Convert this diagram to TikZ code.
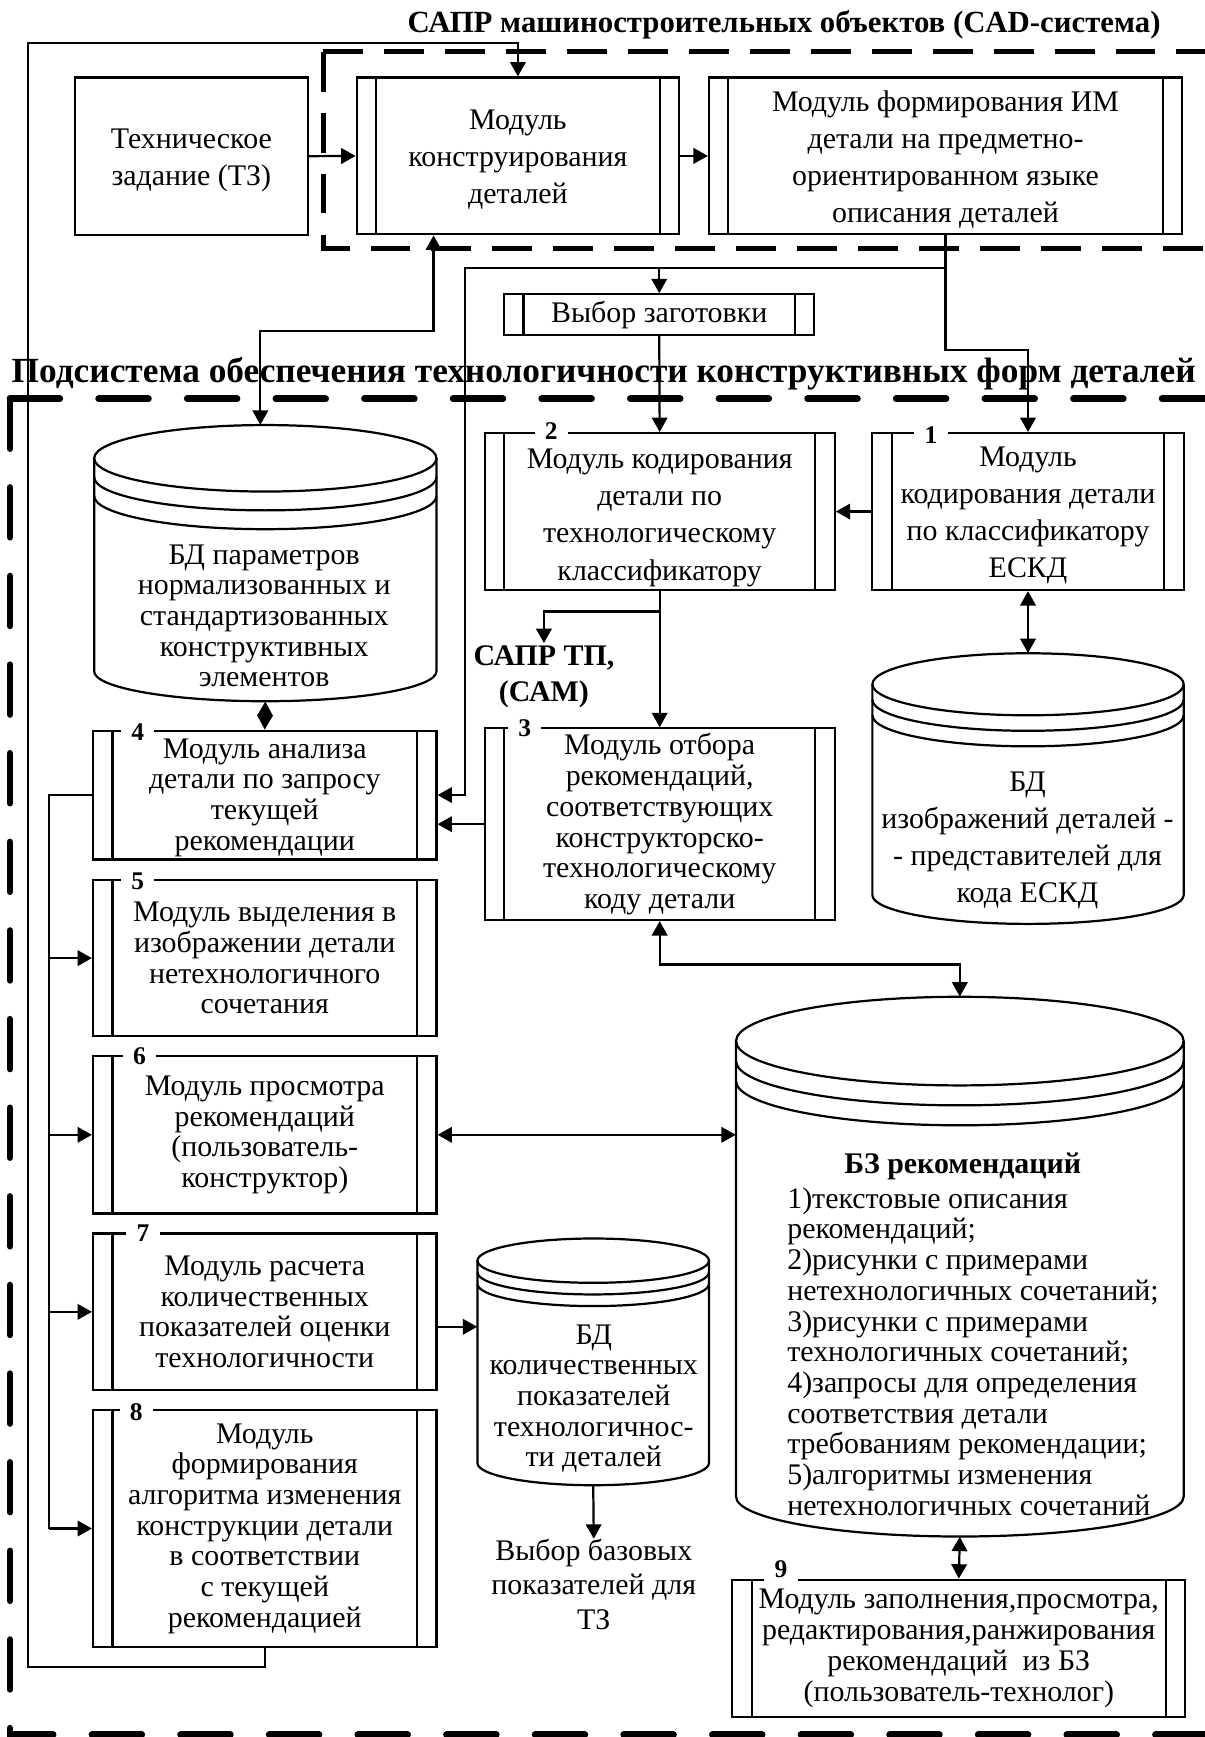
\documentclass[tikz,border=0pt]{standalone}
\usepackage{fontspec}
\setmainfont{Liberation Serif}
\usetikzlibrary{arrows.meta,calc}
\newcommand{\fsTop}{\fontsize{27}{33.5}\selectfont}
\newcommand{\fsLow}{\fontsize{27}{27.7}\selectfont}
\newcommand{\fsNum}{\fontsize{23}{23}\selectfont\bfseries}
\newcommand{\dn}{\rule{0pt}{25pt}}
\tikzset{
  lw/.style={line width=2pt},
  plainbox/.style={draw, line width=2pt, inner sep=0pt, align=center},
  modbox/.style={draw, line width=2pt, inner sep=0pt, align=center,
    path picture={\draw[line width=2pt]
      ([xshift=17.5pt]path picture bounding box.north west) -- ([xshift=17.5pt]path picture bounding box.south west)
      ([xshift=-17.5pt]path picture bounding box.north east) -- ([xshift=-17.5pt]path picture bounding box.south east);}},
  arr/.style={line width=2pt, -{Triangle[length=13pt,width=14pt]}},
  arrb/.style={line width=2pt, {Triangle[length=13pt,width=14pt]}-{Triangle[length=13pt,width=14pt]}},
  numlab/.style={font=\fsNum, inner sep=0pt},
  cadline/.style={line width=4.2pt, dash pattern=on 36pt off 19pt},
  subline/.style={line width=6pt, line cap=round, dash pattern=on 45pt off 35pt},
}
\newcommand{\cyl}[8]{%
  \pgfmathsetmacro\cylcx{(#2+#3)/2}%
  \pgfmathsetmacro\cylrx{(#3-#2)/2}%
  \pgfmathsetmacro\cylyc{#4+#6}%
  \pgfmathsetmacro\cylyb{#5-#8}%
  \pgfmathsetmacro\cylcy{(#4+#5)/2}%
  \pgfmathsetmacro\cylw{#3-#2}%
  \pgfmathsetmacro\cylh{#5-#4}%
  \node[inner sep=0pt, minimum width=\cylw pt, minimum height=\cylh pt] (#1) at (\cylcx,\cylcy) {};
  \draw[lw] (#2,\cylyc) -- (#2,\cylyb) arc[start angle=180, end angle=360, x radius=\cylrx pt, y radius=#8 pt] -- (#3,\cylyc);
  \draw[lw] (\cylcx,\cylyc) ellipse[x radius=\cylrx pt, y radius=#6 pt];
  \draw[lw] (#2,\cylyc+#7) arc[start angle=180, end angle=360, x radius=\cylrx pt, y radius=#6 pt];
  \draw[lw] (#2,\cylyc+2*#7) arc[start angle=180, end angle=360, x radius=\cylrx pt, y radius=#6 pt];
}
% #1 name, #2 x, #3 border y, #4 digit centre offset, #5 digit
\newcommand{\numlab}[5]{%
  \fill[white] (#2-15,#3-2.5) rectangle (#2+15,#3+2.5);
  \node[numlab] (#1) at (#2,#3+#4) {#5};
}
\begin{document}
\begin{tikzpicture}[x=1pt, y=-1pt]
\useasboundingbox (0,0) rectangle (1087,1568);
\fill[white] (0,0) rectangle (1087,1568);

% titles
\node[font=\bfseries\fontsize{27.8}{27.8}\selectfont, anchor=base, inner sep=0pt] (t1) at (707.8,29) {САПР машиностроительных объектов (CAD-система)};
\node[font=\bfseries\fontsize{31.9}{31.9}\selectfont, anchor=base, inner sep=0pt] (t2) at (545,345) {Подсистема обеспечения технологичности конструктивных форм деталей};

% dashed frames
\draw[cadline] (292,46.7) -- (1100,46.7);
\draw[cadline] (292,46.7) -- (292,224.2) -- (1100,224.2);
\draw[subline] (9,360) -- (1100,360);
\draw[subline] (9,360) -- (9,1566) -- (1100,1566);

% top boxes
\node[plainbox, font=\fsTop, minimum width=210.5pt, minimum height=142pt] (tz) at (172.75,141) {\dn Техническое\\задание (ТЗ)};
\node[modbox, font=\fsTop, minimum width=291pt, minimum height=141.5pt] (mk) at (467.5,140.75) {\dn Модуль\\конструирования\\деталей};
\node[modbox, font=\fsTop, minimum width=427pt, minimum height=141.5pt] (im) at (853.5,140.75) {\dn Модуль формирования ИМ\\детали на предметно-\\ориентированном языке\\описания деталей};
\node[modbox, font=\fsTop, minimum width=280pt, minimum height=36.7pt] (vz) at (595.1,284) {Выбор заготовки};

% modules
\node[modbox, font=\fsTop, minimum width=316pt, minimum height=141.7pt] (m2) at (595.5,461.8) {\rule{0pt}{29pt}Модуль кодирования\\детали по\\технологическому\\классификатору};
\node[modbox, font=\fsTop, minimum width=281pt, minimum height=141.7pt] (m1) at (928,461.8) {\dn Модуль\\кодирования детали\\по классификатору\\ЕСКД};
\node[modbox, font=\fsLow, minimum width=316pt, minimum height=173pt] (m3) at (595.5,744) {Модуль отбора\\рекомендаций,\\соответствующих\\конструкторско-\\технологическому\\коду детали};
\node[modbox, font=\fsLow, minimum width=310pt, minimum height=116.2pt] (m4) at (239,717.7) {\rule{0pt}{22pt}Модуль анализа\\детали по запросу\\текущей\\рекомендации};
\node[modbox, font=\fsLow, minimum width=310pt, minimum height=140.8pt] (m5) at (239,864.9) {Модуль выделения в\\изображении детали\\нетехнологичного\\сочетания};
\node[modbox, font=\fsLow, minimum width=310pt, minimum height=142pt] (m6) at (239,1024.4) {Модуль просмотра\\рекомендаций\\(пользователь-\\конструктор)};
\node[modbox, font=\fsLow, minimum width=310pt, minimum height=141.4pt] (m7) at (239,1184.2) {Модуль расчета\\количественных\\показателей оценки\\технологичности};
\node[modbox, font=\fsLow, minimum width=310pt, minimum height=213.6pt] (m8) at (239,1379.8) {Модуль\\формирования\\алгоритма изменения\\конструкции детали\\в соответствии\\с текущей\\рекомендацией};
\node[modbox, font=\fsLow, minimum width=409pt, minimum height=124pt] (m9) at (865.5,1488) {Модуль заполнения,просмотра,\\редактирования,ранжирования\\рекомендаций~ из БЗ\\(пользователь-технолог)};

% number labels
\numlab{n1}{840.5}{391}{1.5}{1}
\numlab{n2}{497.5}{391}{-2}{2}
\numlab{n3}{473.6}{657.5}{0}{3}
\numlab{n4}{124.4}{659.6}{1.5}{4}
\numlab{n5}{124.4}{794.5}{1}{5}
\numlab{n6}{126}{953.4}{0}{6}
\numlab{n7}{129}{1113.5}{0}{7}
\numlab{n8}{123}{1273}{1.5}{8}
\numlab{n9}{705}{1425.8}{-9}{9}

% cylinders
\cyl{bdp}{85}{394}{383.7}{633}{30}{17}{27}
\cyl{bdi}{787.5}{1068.5}{589.7}{834}{28}{14}{26}
\cyl{bz}{664.4}{1068.5}{899.8}{1387}{40}{18}{36}
\cyl{bdk}{431}{640}{1118}{1340.7}{20}{10.5}{20}

\node[font=\fsLow, align=center, inner sep=0pt] (bdpt) at (238.5,556) {БД параметров\\нормализованных и\\стандартизованных\\конструктивных\\элементов};
\node[font=\fsTop, align=center, inner sep=0pt] (bdit) at (927.5,758.5) {БД\\изображений деталей -\\- представителей для\\кода ЕСКД};
\node[font=\fsLow, align=center, inner sep=0pt] (bdkt) at (536,1262.5) {БД\\количественных\\показателей\\технологичнос-\\ти деталей};
\node[font=\bfseries\fontsize{27}{27.7}\selectfont, inner sep=0pt] (bzt) at (869,1053) {БЗ рекомендаций};
\node[font=\fsLow, align=left, anchor=west, inner sep=0pt] (bzl) at (710.5,1220) {1)текстовые описания\\рекомендаций;\\2)рисунки с примерами\\нетехнологичных сочетаний;\\3)рисунки с примерами\\технологичных сочетаний;\\4)запросы для определения\\соответствия детали\\требованиям рекомендации;\\5)алгоритмы изменения\\нетехнологичных сочетаний};

\node[font=\fontsize{27}{31}\selectfont, align=center, inner sep=0pt] (vb) at (536,1430) {Выбор базовых\\показателей для\\ТЗ};
\node[font=\bfseries\fontsize{27}{33}\selectfont, align=center, inner sep=2pt] (sapr) at (491,611) {САПР ТП,\\(САМ)};

% coordinates
\coordinate (fbtop) at (25,38.5);
\coordinate (mkup) at (391.4,298.8);
\coordinate (c419) at (419.8,242);
\coordinate (j1) at (853.5,242);
\coordinate (br3) at (595.5,552);
\coordinate (busT) at (44.2,717.7);
\coordinate (a7) at ([yshift=-13.5pt]m7.east);

% connectors
\draw[arr] (m8.south) -- ++(0,17.5) -| (fbtop) -| (mk.north);
\draw[arr] (tz.east) -- (mk.west);
\draw[arr] (mk.east) -- (im.west);
\draw[arr] (im.south) |- (c419) |- (m4.east);
\draw[arr] (vz.north |- c419) -- (vz.north);
\draw[arr] (j1) -- ++(0,74) -| (m1.north);
\draw[arr] (vz.south) -- (m2.north);
\draw[arrb] ([xshift=-4.5pt]bdp.north) |- (mkup) -- (mkup |- mk.south);
\draw[arr] (m2.south) -- (m3.north);
\draw[arr] (br3) -| (sapr.north);
\draw[arr] (m1.west) -- (m2.east);
\draw[arrb] (m1.south) -- (bdi.north);
\draw[arr] (m3.west) -- (m3.west -| m4.east);
\draw[arrb] (bdp.south) -- (m4.north);
\draw[lw] (m4.west) -- (busT) -- (busT |- m8.west);
\draw[arr] (busT |- m5.west) -- (m5.west);
\draw[arr] (busT |- m6.west) -- (m6.west);
\draw[arr] (busT |- m7.west) -- (m7.west);
\draw[arr] (busT |- m8.west) -- (m8.west);
\draw[arrb] (m6.east) -- (m6.east -| bz.west);
\draw[arr] (a7) -- (a7 -| bdk.west);
\draw[arr] (bdk.south) -- (vb.north);
\draw[arrb] (m3.south) -- ++(0,39.1) -| (bz.north);
\draw[arrb] (bz.south) -- (m9.north);
\end{tikzpicture}
\end{document}
